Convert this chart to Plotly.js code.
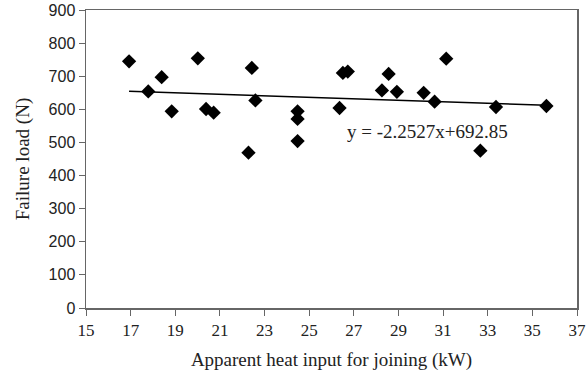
<!DOCTYPE html>
<html>
<head>
<meta charset="utf-8">
<script src="https://cdn.plot.ly/plotly-3.0.1.min.js"></script>
<style>html,body{margin:0;padding:0;background:#fff;}#chart{width:586px;height:376px;}</style>
</head>
<body>
<div id="chart"></div>
<script>
const heatInput = [16.93, 17.79, 18.39, 18.84, 20.01, 20.38, 20.72, 22.43, 22.28, 22.59, 24.48, 24.48, 24.48,
  26.36, 26.51, 26.73, 28.26, 28.56, 28.93, 30.13, 30.62, 31.14, 32.67, 33.37, 35.63];
const failureLoad = [745, 654, 697, 594, 754, 601, 590, 725, 469, 627, 594, 571, 504,
  604, 710, 714, 657, 707, 653, 650, 623, 753, 475, 607, 610];
const slope = -2.2527;
const intercept = 692.85;
const xTicks = [15, 17, 19, 21, 23, 25, 27, 29, 31, 33, 35, 37];
const yTicks = [0, 100, 200, 300, 400, 500, 600, 700, 800, 900];

const xMin = Math.min(...heatInput), xMax = Math.max(...heatInput);
const trendX = [xMin, xMax];
const trendY = trendX.map(v => slope * v + intercept);

const serif = 'Liberation Serif, Times New Roman, serif';
const data = [
  {x: heatInput, y: failureLoad, type: 'scatter', mode: 'markers',
   marker: {symbol: 'diamond', size: 11, color: '#000'}},
  {x: trendX, y: trendY, type: 'scatter', mode: 'lines',
   line: {color: '#000', width: 1.5}}
];
const layout = {
  width: 586, height: 376,
  margin: {l: 86, r: 9, t: 10, b: 68},
  showlegend: false,
  paper_bgcolor: '#fff', plot_bgcolor: '#fff',
  xaxis: {
    range: [15, 37], tickvals: xTicks, ticktext: xTicks.map(String),
    showgrid: false, zeroline: false, showline: true, mirror: true,
    linecolor: '#666', linewidth: 1.5, ticks: 'outside', ticklen: 6, tickcolor: '#666',
    tickfont: {family: serif, size: 17, color: '#222'},
    title: {text: 'Apparent heat input for joining (kW)', standoff: 14,
            font: {family: serif, size: 19, color: '#222'}}
  },
  yaxis: {
    range: [0, 900], tickvals: yTicks, ticktext: yTicks.map(String),
    showgrid: false, zeroline: false, showline: true, mirror: true,
    linecolor: '#666', linewidth: 1.5, ticks: 'outside', ticklen: 6, tickcolor: '#666',
    tickfont: {family: 'Liberation Sans, Arial, sans-serif', size: 16, color: '#222'},
    title: {text: 'Failure load (N)', standoff: 14,
            font: {family: serif, size: 19, color: '#222'}}
  },
  annotations: [{
    x: 30.29, y: 532, xref: 'x', yref: 'y', showarrow: false,
    text: 'y = -2.2527x+692.85',
    font: {family: serif, size: 19, color: '#222'}
  }]
};
Plotly.newPlot('chart', data, layout, {displayModeBar: false, staticPlot: true});
</script>
</body>
</html>
